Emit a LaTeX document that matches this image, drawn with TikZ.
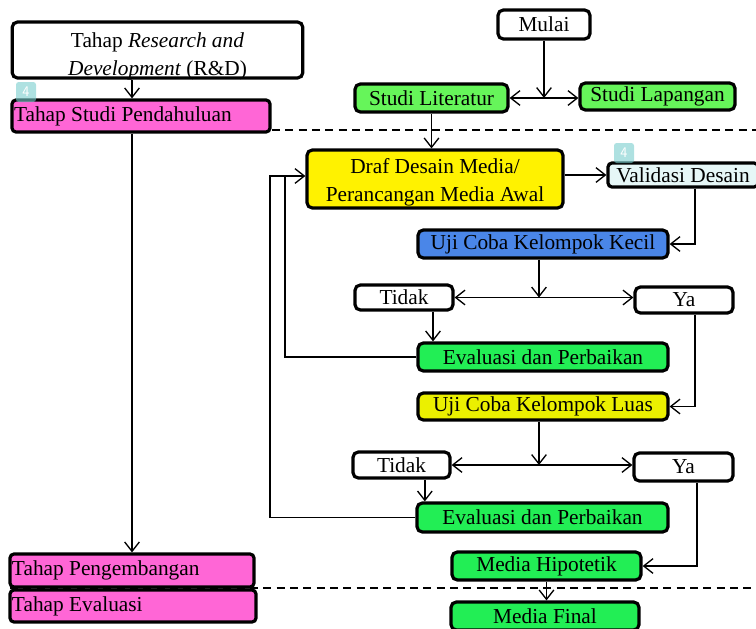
\documentclass[tikz,border=0pt]{standalone}
\usepackage{fontspec}
\setmainfont{Liberation Serif}
\usetikzlibrary{arrows.meta}
\definecolor{stagepink}{RGB}{255,102,214}
\definecolor{litgreen}{RGB}{102,245,90}
\definecolor{evalgreen}{RGB}{34,238,85}
\definecolor{trialblue}{RGB}{74,134,232}
\definecolor{validcyan}{RGB}{230,247,247}
\definecolor{widetrial}{RGB}{235,240,0}
\definecolor{badgeteal}{RGB}{120,205,205}
\begin{document}
\begin{tikzpicture}[x=0.75pt,y=-0.75pt,
    >={Straight Barb[length=7pt,width=11pt]},
    boxfont/.style={font=\fontsize{16}{21}\selectfont},
    box/.style={draw, rounded corners=4pt, line width=2.4pt, inner sep=1pt, align=center, boxfont},
    stage/.style={box, fill=stagepink, align=flush left, inner xsep=1.5pt, rounded corners=3pt},
    conn/.style={line width=1pt},
    sep/.style={line width=1.2pt, dash pattern=on 6pt off 4pt},
    badge/.style={fill=badgeteal, fill opacity=0.6, text opacity=1, text=white, rounded corners=2pt,
      minimum size=15pt, inner sep=0pt, font=\sffamily\fontsize{11}{11}\selectfont}]
  \useasboundingbox (0,0) rectangle (756,628);

  % left column: stages
  \node[box, minimum width=218pt, minimum height=42pt] (rnd) at (157.5,50) {};
  \node[boxfont, align=center, inner sep=0pt] (rndtext) at (157.5,56) {Tahap \textit{Research and}\\\textit{Development} (R\&D)};
  \node[stage, text width=190.5pt, minimum height=24pt] (studi) at (141,116) {Tahap Studi Pendahuluan};
  \node[stage, text width=180pt, minimum height=24.75pt] (dev) at (132,570.5) {Tahap Pengembangan};
  \node[stage, text width=181.5pt, minimum height=24pt] (evalstage) at (133,606) {Tahap Evaluasi};
  \node[badge] (tagA) at (26,92) {4};

  % right column: flow
  \node[box, minimum width=69pt, minimum height=21.75pt] (mulai) at (544,24.5) {Mulai};
  \node[box, fill=litgreen, minimum width=114.75pt, minimum height=21pt] (lit) at (431.5,98) {Studi Literatur};
  \node[box, fill=litgreen, minimum width=116.25pt, minimum height=20.25pt] (lap) at (657.5,96.5) {Studi Lapangan};
  \node[box, fill=yellow, minimum width=192pt, minimum height=43.5pt] (draf) at (435,179) {};
  \node[boxfont, align=center, inner sep=0pt] (draftext) at (435,182) {Draf Desain Media/\\Perancangan Media Awal};
  \node[box, fill=validcyan, minimum width=112.5pt, minimum height=18pt, rounded corners=3pt] (valid) at (683,175) {Validasi Desain};
  \node[badge] (tagB) at (624,153) {4};
  \node[box, fill=trialblue, minimum width=187.5pt, minimum height=21pt] (kecil) at (543,244) {Uji Coba Kelompok Kecil};
  \node[box, minimum width=73.5pt, minimum height=18.75pt] (tidakA) at (404,297.5) {Tidak};
  \node[box, minimum width=73.5pt, minimum height=19.5pt, text depth=0pt] (yaA) at (684,300) {Ya};
  \node[box, fill=evalgreen, minimum width=187.5pt, minimum height=21pt] (evalA) at (543,357) {Evaluasi dan Perbaikan};
  \node[box, fill=widetrial, minimum width=187.5pt, minimum height=20.25pt] (luas) at (543,406.5) {Uji Coba Kelompok Luas};
  \node[box, minimum width=72.75pt, minimum height=19.5pt] (tidakB) at (401.5,465) {Tidak};
  \node[box, minimum width=74.25pt, minimum height=21pt, text depth=0pt] (yaB) at (683.5,467) {Ya};
  \node[box, fill=evalgreen, minimum width=188.25pt, minimum height=21.75pt] (evalB) at (542.5,517.5) {Evaluasi dan Perbaikan};
  \node[box, fill=evalgreen, minimum width=141.75pt, minimum height=21pt] (hipo) at (546.5,566) {Media Hipotetik};
  \node[box, fill=evalgreen, minimum width=141pt, minimum height=21pt] (final) at (545,616) {Media Final};

  \coordinate (fbA) at (285,176);
  \coordinate (fbB) at (270,176);

  \draw[sep] (272,130) -- (756,130);
  \draw[sep] (10,588) -- (756,588);

  \draw[conn,->] ([xshift=-6.75pt]studi.north |- rnd.south) -- ([xshift=-6.75pt]studi.north);
  \draw[conn,->] ([xshift=-6.75pt]studi.south) -- ([xshift=-6.75pt]studi.south |- dev.north);

  \draw[conn,->] (mulai.south) -- (mulai.south |- lit.east);
  \draw[conn,<->] (lit.east) -- (lit.east -| lap.west);
  \draw[conn,->] (lit.south) -- (lit.south |- draf.north);
  \draw[conn,->] (draf.east |- valid.west) -- (valid.west);
  \draw[conn,->] ([xshift=9pt]valid.south) |- (kecil.east);
  \draw[conn,->] ([xshift=-3pt]kecil.south) -- ([xshift=-3pt]kecil.south |- tidakA.east);
  \draw[conn,<->] (tidakA.east) -- (tidakA.east -| yaA.west);
  \draw[conn,->] ([xshift=21.75pt]tidakA.south) -- ([xshift=21.75pt]tidakA.south |- evalA.north);
  \draw[conn] (evalA.west) -| (fbA);
  \draw[conn,->] ([xshift=8.25pt]yaA.south) |- (luas.east);
  \draw[conn,->] ([xshift=-3pt]luas.south) -- ([xshift=-3pt]luas.south |- tidakB.east);
  \draw[conn,<->] (tidakB.east) -- (tidakB.east -| yaB.west);
  \draw[conn,->] ([xshift=17.5pt]tidakB.south) -- ([xshift=17.5pt]tidakB.south |- evalB.north);
  \draw[conn,->] (evalB.west) -| (fbB) -- (fbB -| draf.west);
  \draw[conn,->] ([xshift=10pt]yaB.south) |- (hipo.east);
  \draw[conn,->] (hipo.south) -- (hipo.south |- final.north);
\end{tikzpicture}
\end{document}
